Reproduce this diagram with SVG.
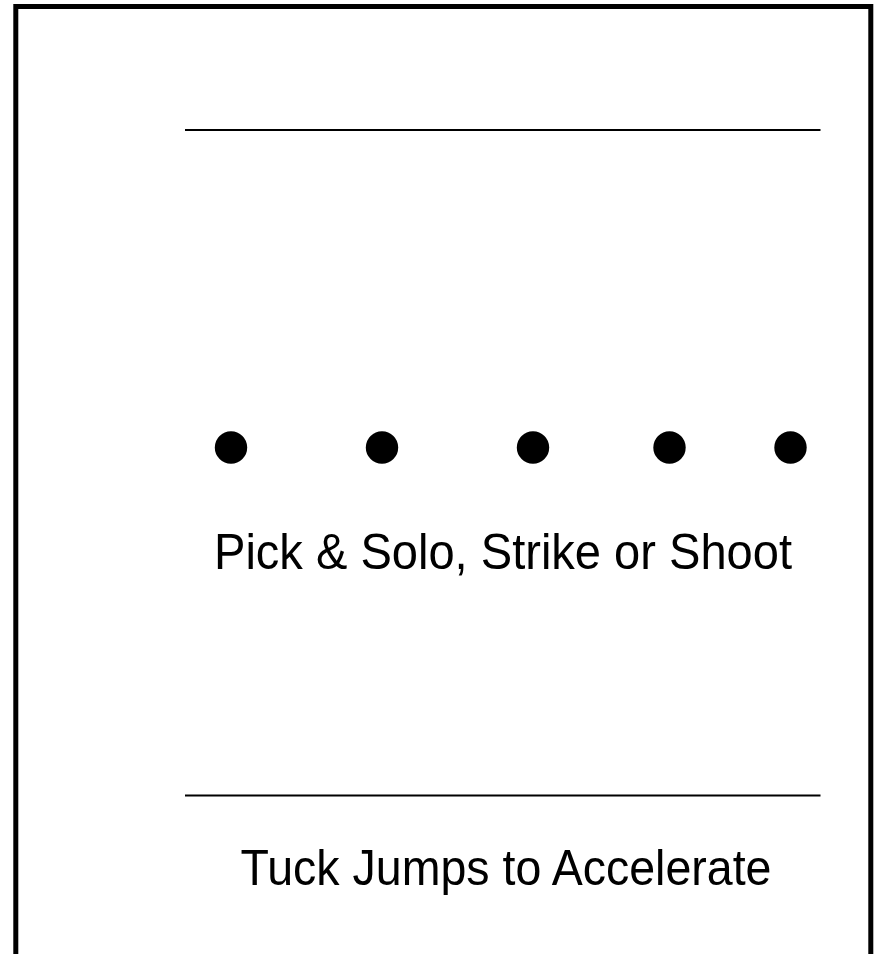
<svg xmlns="http://www.w3.org/2000/svg" width="878" height="954" viewBox="0 0 878 954">
<style>
.t{font-family:"Liberation Sans",Arial,sans-serif;font-size:50px;fill:#000;text-anchor:middle}
.ln{stroke:#000;stroke-width:2;fill:none}
.dot{fill:#000}
</style>
<rect x="0" y="0" width="878" height="954" fill="#fff"/>
<g id="frame"><path d="M15.8 960 V6.5 H870.8 V960" fill="none" stroke="#000" stroke-width="5"/></g>
<g id="connectors">
<line class="ln" x1="185" y1="130" x2="820.5" y2="130"/>
<line class="ln" x1="185" y1="795.5" x2="820.5" y2="795.5"/>
</g>
<g id="dots">
<circle class="dot" cx="231" cy="447.5" r="16.2"/>
<circle class="dot" cx="382" cy="447.5" r="16.2"/>
<circle class="dot" cx="533" cy="447.5" r="16.2"/>
<circle class="dot" cx="669.5" cy="447.5" r="16.2"/>
<circle class="dot" cx="790.5" cy="447.5" r="16.2"/>
</g>
<g id="label1"><text class="t" x="503" y="568.5" textLength="578" lengthAdjust="spacingAndGlyphs">Pick &amp; Solo, Strike or Shoot</text></g>
<g id="label2"><text class="t" x="506" y="884.5" textLength="531" lengthAdjust="spacingAndGlyphs">Tuck Jumps to Accelerate</text></g>
</svg>
